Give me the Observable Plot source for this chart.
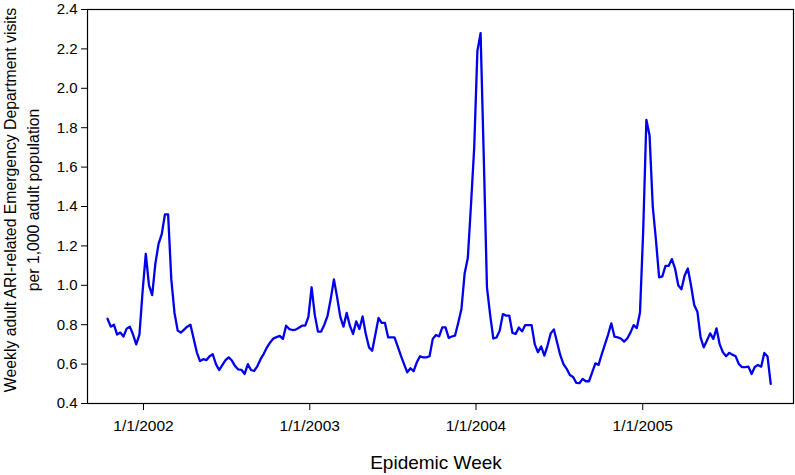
<!DOCTYPE html>
<html><head><meta charset="utf-8">
<script src="https://cdn.jsdelivr.net/npm/d3@7"></script>
<script src="https://cdn.jsdelivr.net/npm/@observablehq/plot@0.6"></script>
<style>body{margin:0;background:#fff;} svg{display:block}</style>
</head><body><div id="chart"></div>
<script>
// first epidemic week (Sunday) of the series; one value per week
const startDate = "2001-10-14";
const weeklyVisits = [
  0.83,0.79,0.80,0.75,0.76,0.74,0.78,0.79,0.75,0.70,
  0.75,0.97,1.16,1.00,0.95,1.11,1.21,1.26,1.36,1.36,
  1.03,0.86,0.77,0.76,0.775,0.79,0.80,0.73,0.66,0.615,
  0.625,0.62,0.64,0.65,0.60,0.57,0.595,0.62,0.634,0.618,
  0.59,0.573,0.571,0.55,0.60,0.57,0.565,0.59,0.625,0.652,
  0.685,0.71,0.73,0.737,0.743,0.728,0.795,0.778,0.773,0.775,
  0.785,0.795,0.795,0.84,0.99,0.85,0.765,0.765,0.80,0.845,
  0.93,1.03,0.94,0.84,0.79,0.86,0.795,0.753,0.817,0.778,
  0.842,0.753,0.685,0.668,0.75,0.834,0.809,0.809,0.736,0.736,
  0.736,0.69,0.643,0.60,0.558,0.579,0.564,0.609,0.64,0.634,
  0.634,0.64,0.728,0.748,0.741,0.786,0.786,0.733,0.74,0.745,
  0.81,0.88,1.06,1.14,1.41,1.70,2.19,2.28,1.65,0.99,
  0.85,0.73,0.735,0.77,0.854,0.846,0.846,0.758,0.753,0.786,
  0.766,0.798,0.798,0.798,0.70,0.66,0.69,0.643,0.694,0.756,
  0.776,0.71,0.645,0.60,0.576,0.545,0.535,0.505,0.503,0.525,
  0.513,0.513,0.558,0.604,0.596,0.65,0.70,0.75,0.807,0.739,
  0.736,0.73,0.714,0.73,0.76,0.798,0.783,0.862,1.276,1.84,
  1.76,1.40,1.23,1.04,1.045,1.099,1.099,1.133,1.085,1.00,
  0.98,1.05,1.085,1.00,0.90,0.866,0.736,0.685,0.72,0.756,
  0.728,0.781,0.70,0.66,0.64,0.657,0.648,0.64,0.60,0.585,
  0.585,0.587,0.55,0.585,0.596,0.587,0.657,0.638,0.50
];
const yTicks = [0.4,0.6,0.8,1.0,1.2,1.4,1.6,1.8,2.0,2.2,2.4];
const xTickDates = ["2002-01-01","2003-01-01","2004-01-01","2005-01-01"];
const xTickLabels = ["1/1/2002","1/1/2003","1/1/2004","1/1/2005"];
const xDomain = ["2001-08-31","2005-11-28"];
const yTitleLines = ["Weekly adult ARI-related Emergency Department visits","per 1,000 adult population"];
const xTitle = "Epidemic Week";

const t0 = new Date(startDate + "T00:00:00Z").getTime();
const data = weeklyVisits.map((v, i) => ({date: new Date(t0 + i * 7 * 864e5), value: v}));
const tickDates = xTickDates.map(d => new Date(d + "T00:00:00Z"));
const labelByTime = new Map(tickDates.map((d, i) => [+d, xTickLabels[i]]));

const W = 795, H = 475, mL = 87, mR = 2, mT = 9, mB = 72;
const chart = Plot.plot({
  width: W, height: H,
  marginLeft: mL, marginRight: mR, marginTop: mT, marginBottom: mB,
  style: {fontFamily: "'Liberation Sans', Arial, sans-serif", fontSize: "15px", background: "white", color: "black", overflow: "visible"},
  x: {type: "utc", domain: xDomain.map(d => new Date(d + "T00:00:00Z"))},
  y: {domain: [0.4, 2.4]},
  marks: [
    Plot.frame({stroke: "black", strokeWidth: 1.2}),
    Plot.axisY({ticks: yTicks, tickFormat: d => d.toFixed(1), tickSize: 6, tickPadding: 4, label: null, fontSize: 15}),
    Plot.axisX({ticks: tickDates, tickFormat: d => labelByTime.get(+d), tickSize: 7, tickPadding: 9, label: null, fontSize: 15.5}),
    Plot.line(data, {x: "date", y: "value", stroke: "#0000ee", strokeWidth: 2.3})
  ]
});
document.getElementById("chart").appendChild(chart);

const svg = d3.select(chart);
const yMid = 200;
const yt = svg.append("text")
  .attr("transform", `translate(0,${yMid}) rotate(-90)`)
  .attr("text-anchor", "middle")
  .style("font-family", "'Liberation Sans', Arial, sans-serif")
  .style("font-size", "15.8px")
  .attr("fill", "black");
yt.append("tspan").attr("x", 0).attr("y", 16).text(yTitleLines[0]);
yt.append("tspan").attr("x", 0).attr("y", 39).text(yTitleLines[1]);

svg.append("text")
  .attr("x", (mL + W - mR) / 2 - 4)
  .attr("y", 469)
  .attr("text-anchor", "middle")
  .style("font-family", "'Liberation Sans', Arial, sans-serif")
  .style("font-size", "19px")
  .attr("fill", "black")
  .text(xTitle);
</script>
</body></html>
